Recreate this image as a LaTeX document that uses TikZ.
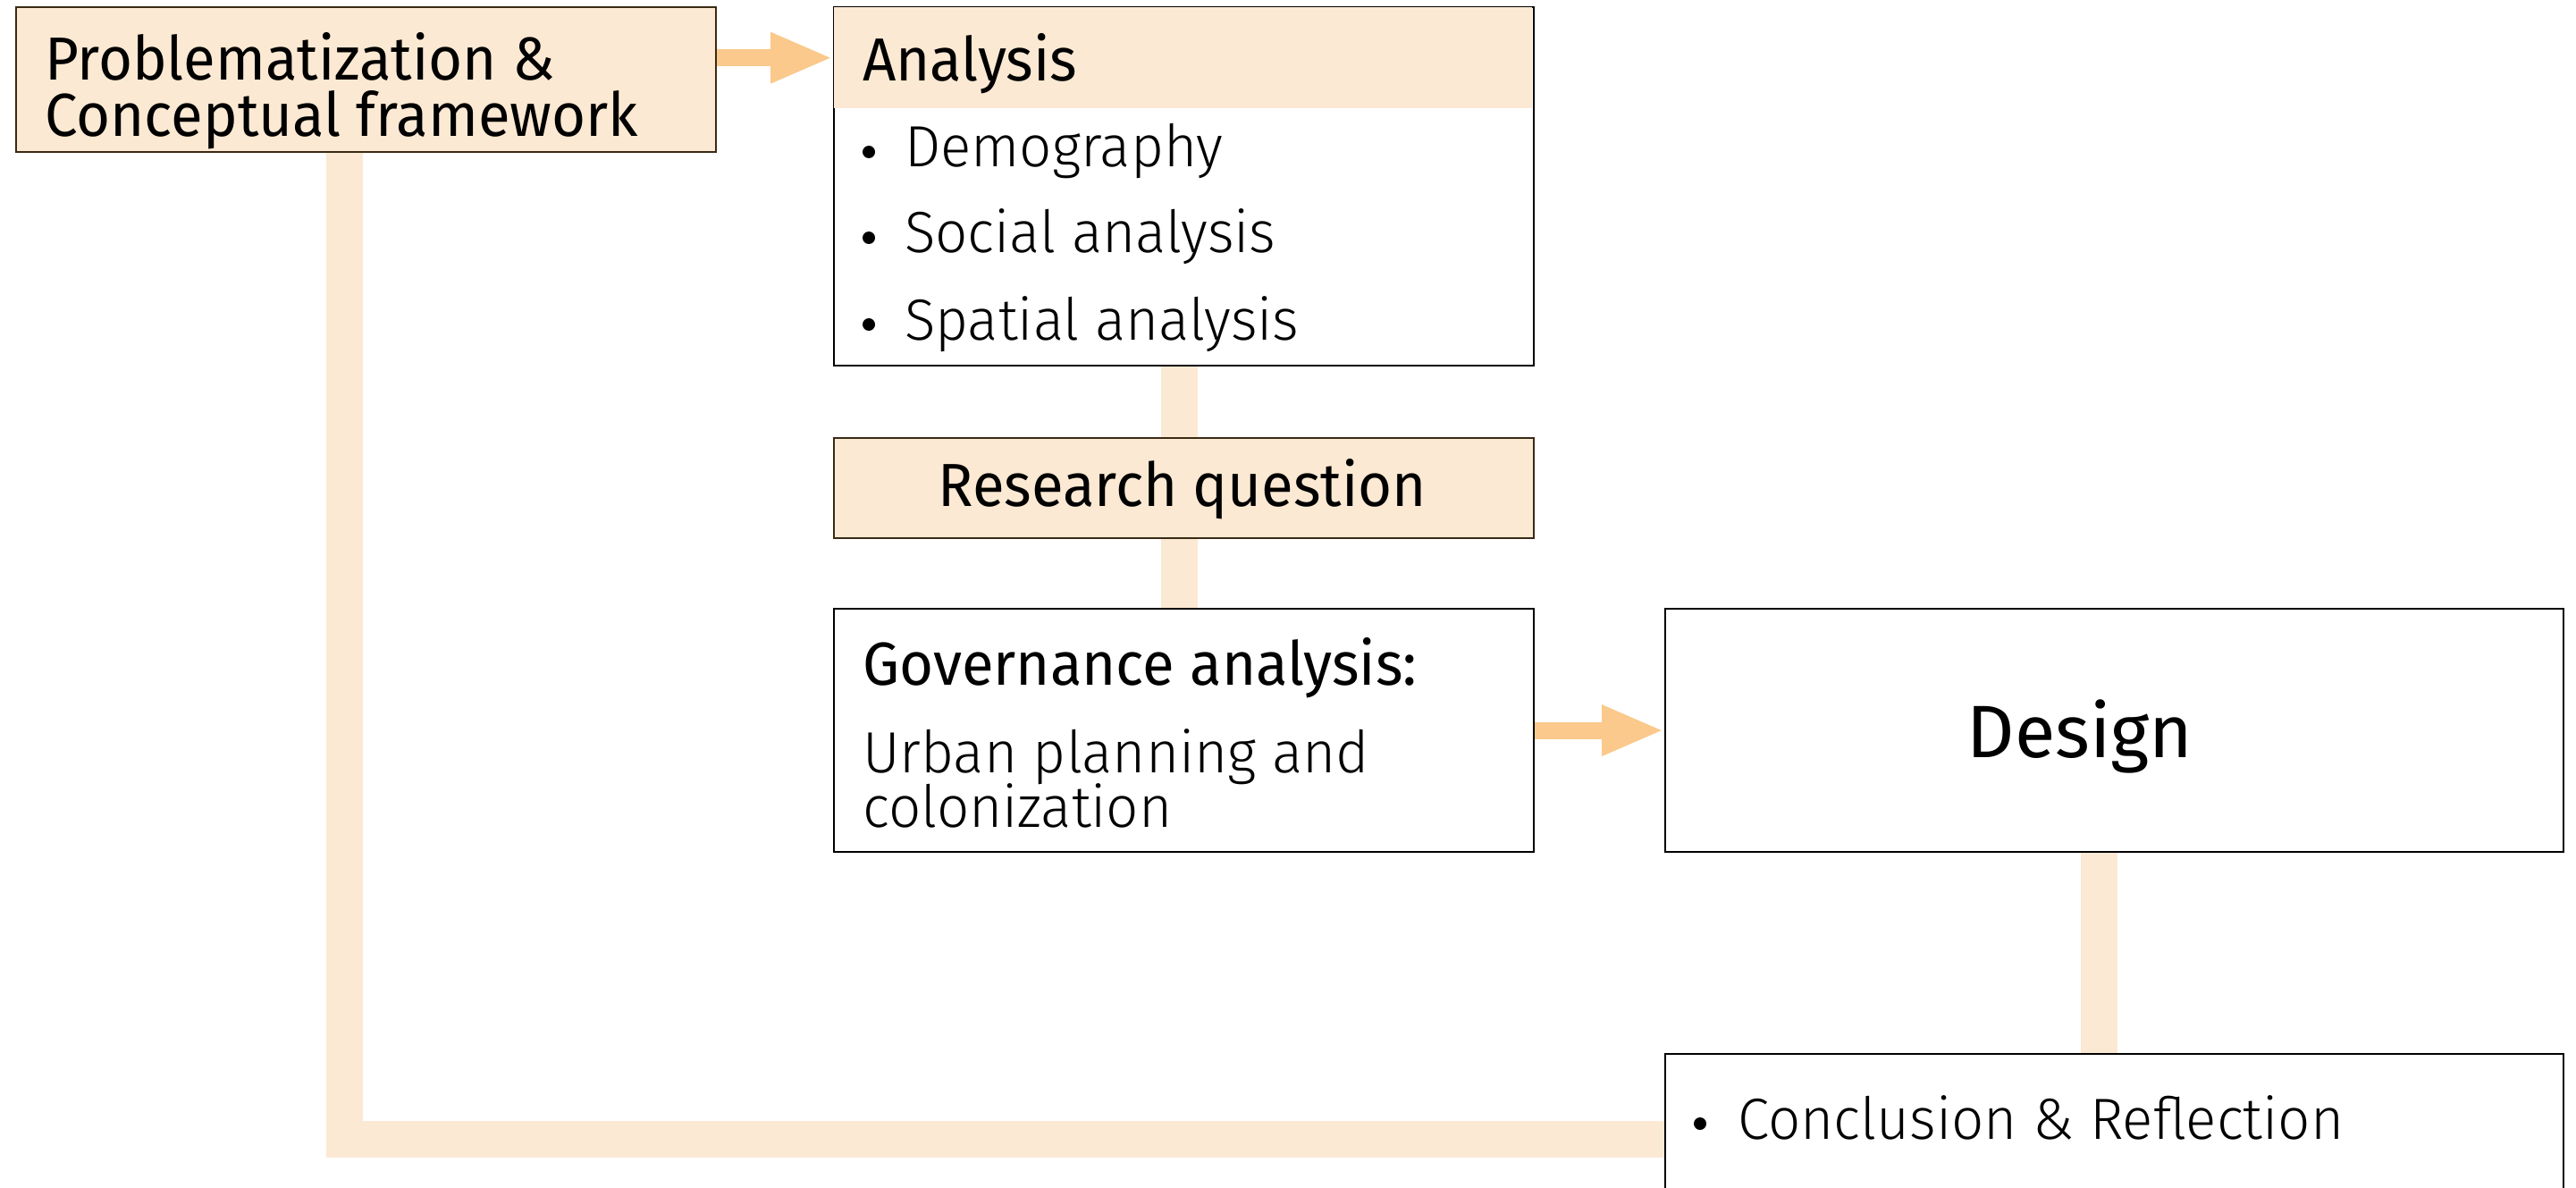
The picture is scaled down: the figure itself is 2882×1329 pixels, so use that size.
\documentclass[tikz,border=0pt]{standalone}
\usepackage{fontspec}
\setmainfont{Fira Sans}[FakeStretch=0.96]
\newfontfamily\headf{Fira Sans}[FakeStretch=0.96]
\newfontfamily\designf{Fira Sans}[FakeStretch=1.0]
\newfontfamily\bodyf{Fira Sans Light}[FakeStretch=0.98]
\usetikzlibrary{arrows.meta}
\definecolor{peach}{HTML}{FCE9D3}
\definecolor{peachdark}{HTML}{FAC98B}
\definecolor{boxbrown}{HTML}{3A2A14}
\tikzset{
  box/.style={draw=black, line width=2.2pt, fill=white, inner sep=0pt, anchor=north west},
  peachbox/.style={box, draw=boxbrown, fill=peach},
  link/.style={draw=peach, line width=41pt},
  flow/.style={draw=peachdark, line width=19pt, -{Triangle[length=70pt, width=52pt]}},
  lbl/.style={inner sep=0pt, anchor=base west, text=black},
  head/.style={lbl, font=\headf\fontsize{68}{72}\selectfont},
  body/.style={lbl, font=\bodyf\fontsize{65}{70}\selectfont},
  dot/.style={fill=black},
}
\begin{document}
\begin{tikzpicture}[x=1pt, y=-1pt]
  \clip (0,0) rectangle (2882,1329);
  \fill[white] (0,0) rectangle (2882,1329);

  % box outlines, placed first so the links can refer to them
  \path
    (17,7)    node[peachbox, minimum width=783pt, minimum height=162pt] (prob) {}
    (932,7)   node[box, minimum width=783pt, minimum height=401pt] (ana) {}
    (932,489) node[peachbox, minimum width=783pt, minimum height=112pt] (rq) {}
    (932,680) node[box, minimum width=783pt, minimum height=272pt] (gov) {}
    (1862,680) node[box, minimum width=1005pt, minimum height=272pt] (design) {}
    (1862,1178) node[box, minimum width=1005pt, minimum height=300pt] (concl) {};

  % light links behind the boxes
  \coordinate (lend) at ([yshift=-96pt]concl.north west);
  \draw[link] ([xshift=-5pt]ana.south) -- ([xshift=-5pt]rq.north);
  \draw[link] ([xshift=-5pt]rq.south) -- ([xshift=-5pt]gov.north);
  \draw[link] ([xshift=-17pt]design.south) -- ([xshift=-17pt]concl.north);
  \draw[link, line join=miter] ([xshift=-24pt]prob.south) |- (lend);

  % boxes again, on top of the links
  \node[peachbox, minimum width=783pt, minimum height=162pt] (probtop) at (17,7) {};
  \node[box, minimum width=783pt, minimum height=401pt] (anatop) at (932,7) {};
  \node[fill=peach, inner sep=0pt, anchor=north west, minimum width=781pt, minimum height=113pt] (anahead) at (933,8) {};
  \node[peachbox, minimum width=783pt, minimum height=112pt] (rqtop) at (932,489) {};
  \node[box, minimum width=783pt, minimum height=272pt] (govtop) at (932,680) {};
  \node[box, minimum width=1005pt, minimum height=272pt] (designtop) at (1862,680) {};
  \node[box, minimum width=1005pt, minimum height=300pt] (concltop) at (1862,1178) {};

  % arrows
  \draw[flow] (prob.east |- anahead) -- (anahead.west -| ana.west);
  \draw[flow] (gov.east) -- (design.west);

  % texts
  \node[head] (t1) at (50,90) {Problematization \&};
  \node[head] (t2) at (50,153) {Conceptual framework};
  \node[head] (t3) at (965,91) {Analysis};
  \node[body] (t4) at (1012,187) {Demography};
  \node[body] (t5) at (1012,283) {Social analysis};
  \node[body] (t6) at (1012,380) {Spatial analysis};
  \node[head, anchor=base] (t7) at (1323,566) {Research question};
  \node[head] (t8) at (965,766) {Governance analysis:};
  \node[body] (t9) at (965,864) {Urban planning and};
  \node[body] (t10) at (965,925) {colonization};
  \node[lbl, anchor=base, font=\designf\fontsize{83}{90}\selectfont] (t11) at (2327,847) {Design};
  \node[body] (t12) at (1944,1274) {Conclusion \& Reflection};

  % bullets
  \foreach \t in {t4,t5,t6}
    \fill[dot] ([xshift=-40pt, yshift=17pt]\t.base west) circle (7pt);
  \fill[dot] ([xshift=-42pt, yshift=17pt]t12.base west) circle (7pt);
\end{tikzpicture}
\end{document}
